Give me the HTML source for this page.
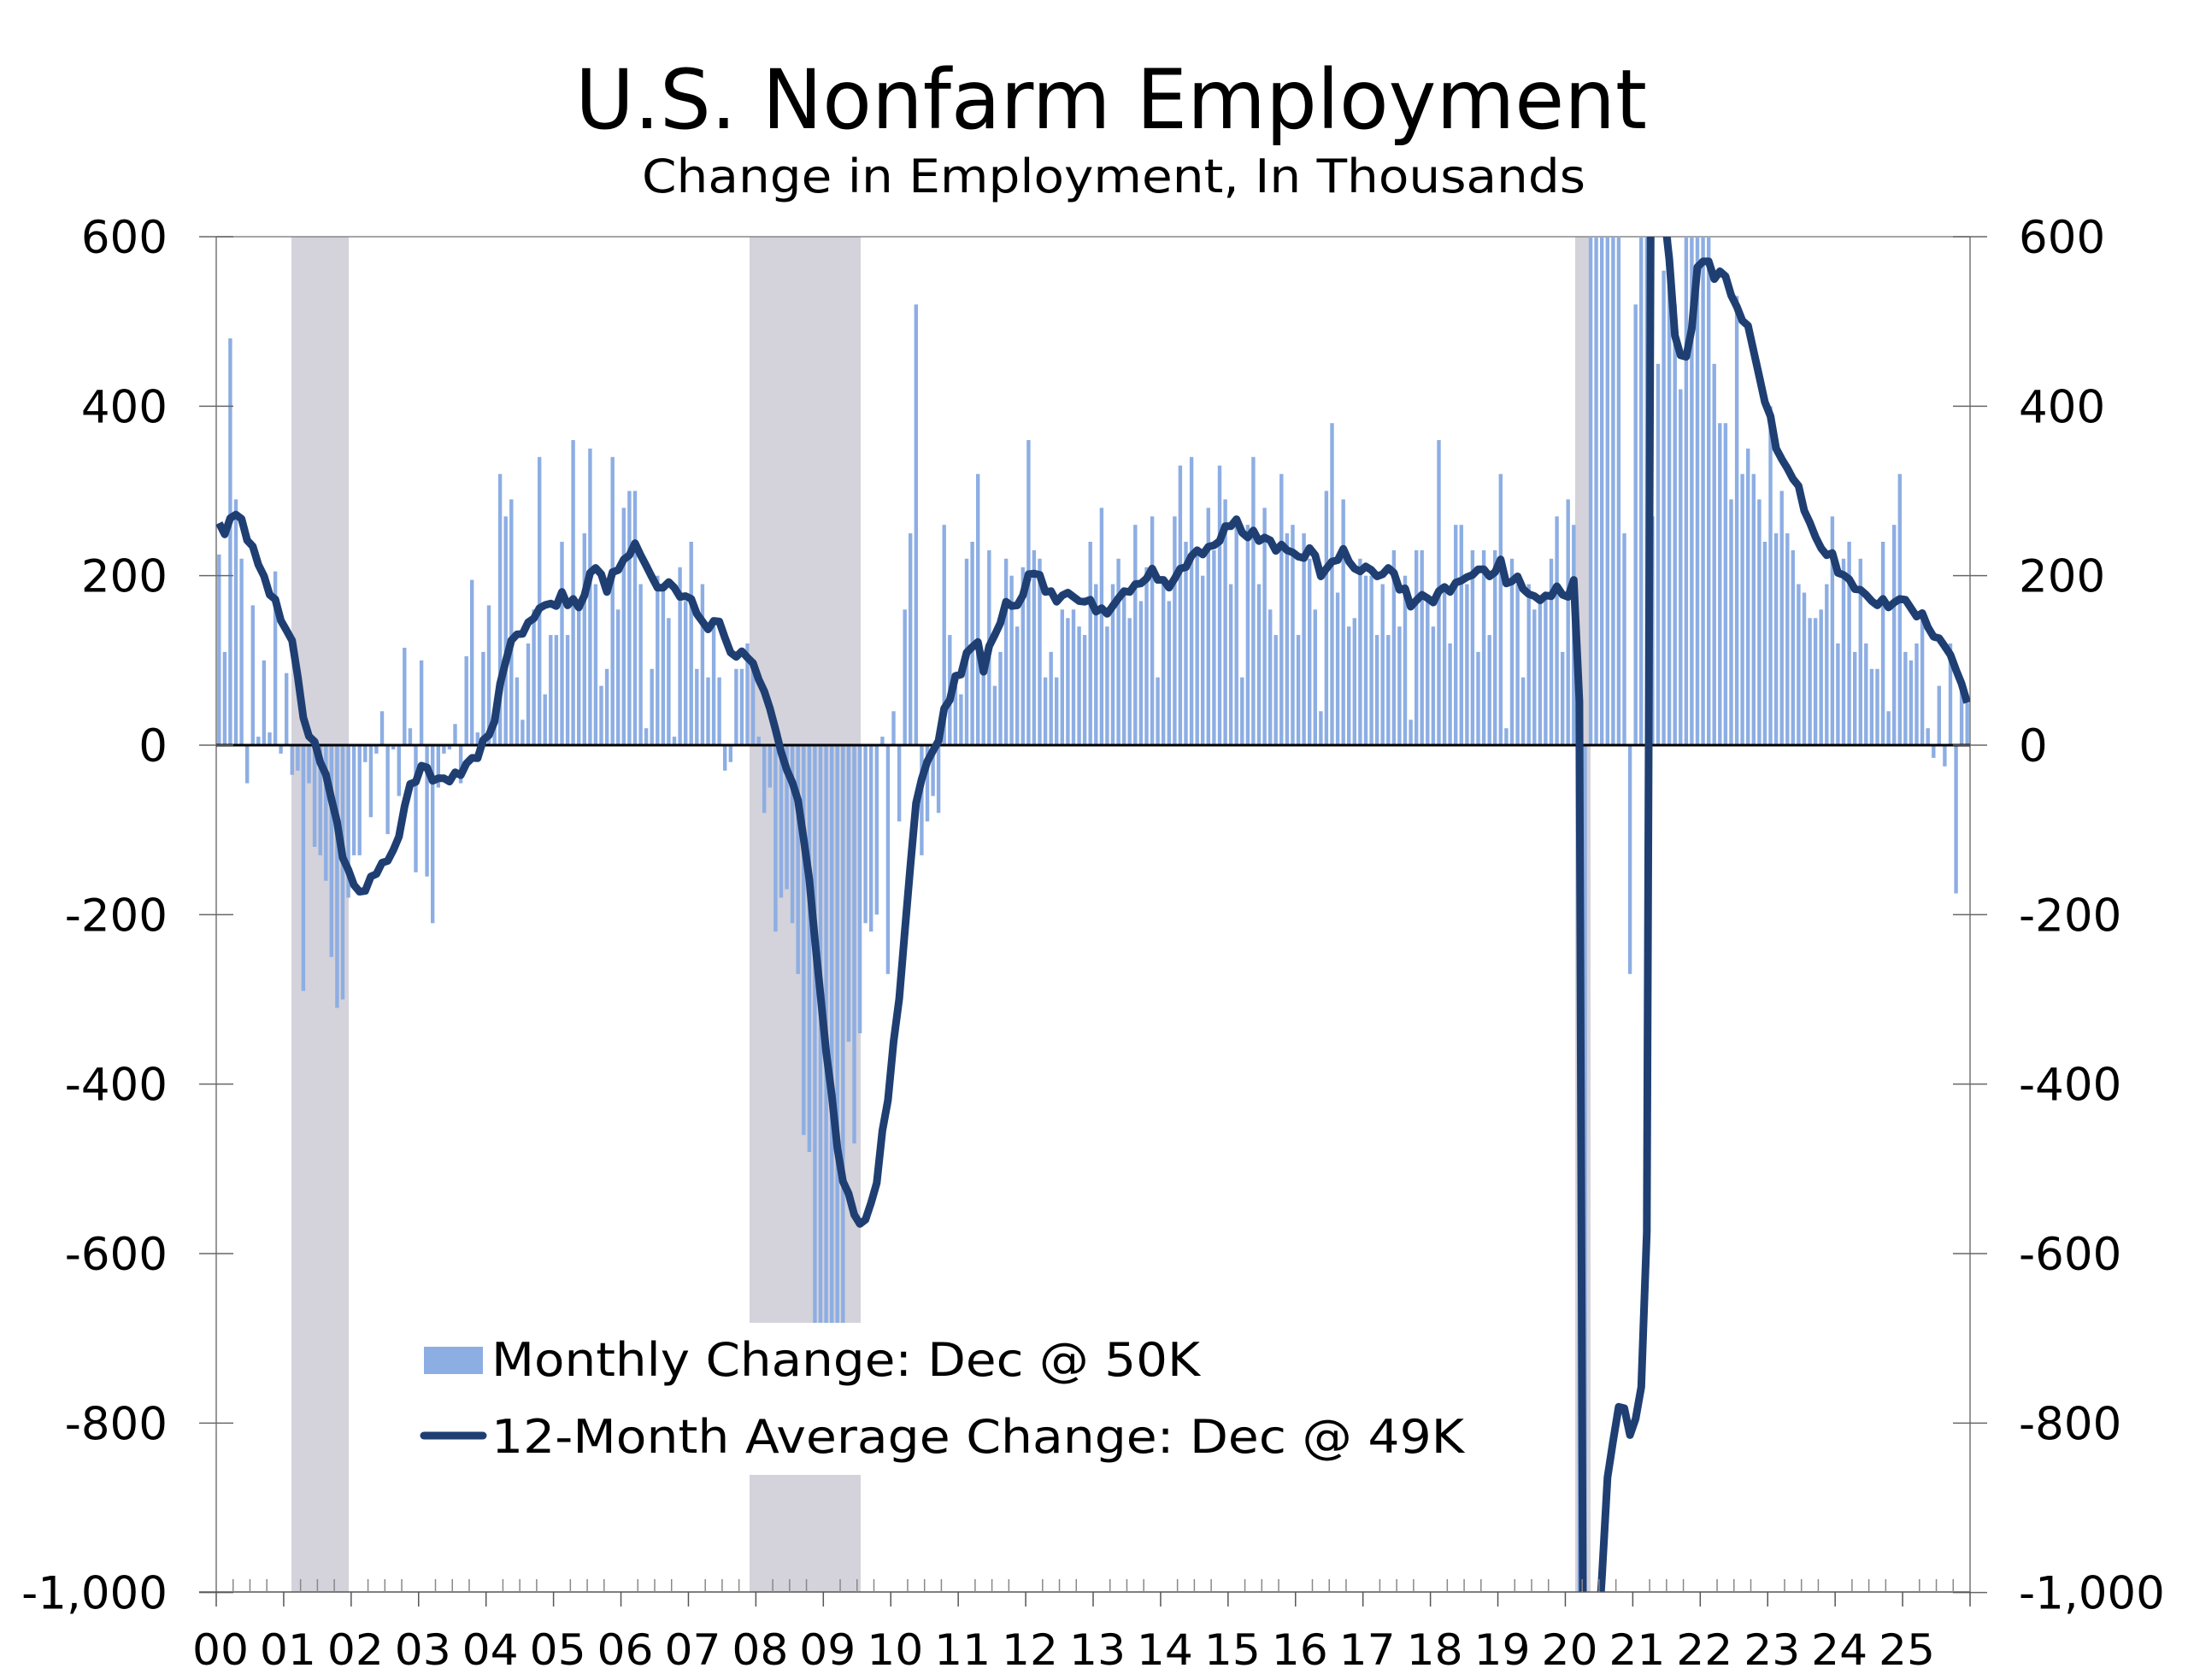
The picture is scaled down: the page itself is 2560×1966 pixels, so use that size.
<!DOCTYPE html>
<html><head><meta charset="utf-8"><style>
html,body{margin:0;padding:0;background:#fff;overflow:hidden;width:2560px;height:1966px;}
svg{display:block;}
</style></head><body>
<svg id="c" width="2560" height="1966" xmlns="http://www.w3.org/2000/svg" font-family="'DejaVu Sans','Liberation Sans',sans-serif"></svg>
<script>
const L=253,R=2305,T=277,B=1863;
const Y0=872, k=(872-277)/600;
const y=v=>Y0-v*k;
const mw=(R-L)/312;
const pre=[260,270,250,240,280,260,250,270,260,280,270,290];
const data=[
225,110,480,290,220,-45,165,10,100,15,205,-10,
85,-35,-30,-290,-45,-120,-130,-160,-250,-310,-300,-180,
-130,-130,-20,-85,-10,40,-105,-5,-60,115,20,-150,
100,-155,-210,-50,-10,-5,25,-45,105,195,15,110,
165,40,320,270,290,80,30,120,160,340,60,130,
130,240,130,360,170,250,350,190,70,90,340,160,
280,300,300,190,20,90,200,190,150,10,210,170,
240,90,190,80,140,80,-30,-20,90,90,120,90,
10,-80,-50,-220,-180,-170,-210,-270,-460,-480,-730,-700,
-790,-700,-800,-690,-350,-470,-340,-210,-220,-200,10,-270,
40,-90,160,250,520,-130,-90,-60,-80,260,130,70,
60,220,240,320,100,230,70,110,220,200,140,210,
360,230,220,80,110,80,160,150,160,140,130,240,
190,280,140,190,220,180,150,260,170,210,270,80,
190,170,270,330,240,340,230,200,280,230,330,290,
190,270,80,260,340,190,280,160,130,320,250,260,
130,250,220,160,40,300,380,180,290,140,150,220,
200,200,130,190,130,230,140,200,30,230,230,170,
140,360,190,120,260,260,190,230,110,230,130,230,
320,20,220,190,80,190,160,170,180,220,270,110,
290,260,-1500,-20500,2800,4500,1400,1600,700,700,250,-270,
520,710,700,270,450,560,690,520,420,680,650,600,
600,710,450,380,380,290,530,320,350,320,290,240,
400,250,300,250,230,190,180,150,150,160,190,270,
120,220,240,110,220,120,90,90,240,40,260,320,
110,100,120,160,20,-15,70,-25,120,-175,65,50];
let s='';
s+=`<defs><clipPath id="cp"><rect x="${L}" y="${T}" width="${R-L}" height="${B-T}"/></clipPath></defs>`;
s+=`<text x="1300" y="150" font-size="96" text-anchor="middle" textLength="1254" lengthAdjust="spacingAndGlyphs">U.S. Nonfarm Employment</text>`;
s+=`<text x="1303" y="225" font-size="54" text-anchor="middle" textLength="1104" lengthAdjust="spacingAndGlyphs">Change in Employment, In Thousands</text>`;
const band='#d4d2da';
s+=`<rect x="341" y="${T}" width="67" height="${B-T}" fill="${band}"/>`;
s+=`<rect x="877" y="${T}" width="130" height="${B-T}" fill="${band}"/>`;
s+=`<rect x="1843" y="${T}" width="18" height="${B-T}" fill="${band}"/>`;
s+=`<line x1="${L}" y1="${T}" x2="${R}" y2="${T}" stroke="#888" stroke-width="1.5"/>`;
s+=`<line x1="${L}" y1="${T}" x2="${L}" y2="${B}" stroke="#777" stroke-width="1.5"/>`;
s+=`<line x1="${R}" y1="${T}" x2="${R}" y2="${B}" stroke="#777" stroke-width="1.5"/>`;
let g='<g clip-path="url(#cp)" fill="#8daee3">';
data.forEach((v,i)=>{const cx=L+(i+0.5)*mw;const a=y(Math.max(v,0)),b=y(Math.min(v,0));g+=`<rect x="${(cx-2.2).toFixed(1)}" y="${a.toFixed(1)}" width="4.4" height="${Math.max(b-a,0.5).toFixed(1)}"/>`;});
g+='</g>';s+=g;
// legend background box
s+=`<rect x="470" y="1548" width="1260" height="178" fill="#fff"/>`;
s+=`<line x1="${L}" y1="${Y0}" x2="${R}" y2="${Y0}" stroke="#000" stroke-width="3"/>`;
const all=pre.concat(data);let pts=[];
for(let i=0;i<data.length;i++){let sum=0;for(let j=i+1;j<=i+12;j++)sum+=all[j];const v=sum/12;pts.push(`${(L+(i+0.5)*mw).toFixed(1)},${y(v).toFixed(1)}`);}
s+=`<g clip-path="url(#cp)"><polyline points="${pts.join(' ')}" fill="none" stroke="#1f3f73" stroke-width="9" stroke-linejoin="round"/></g>`;
for(let v=600;v>=-1000;v-=200){const yy=y(v);const lab=v==-1000?'-1,000':String(v);
s+=`<line x1="${L-20}" y1="${yy}" x2="${L+20}" y2="${yy}" stroke="#666" stroke-width="1.5"/>`;
s+=`<line x1="${R-20}" y1="${yy}" x2="${R+20}" y2="${yy}" stroke="#666" stroke-width="1.5"/>`;
s+=`<text x="196" y="${yy+19}" font-size="53" text-anchor="end">${lab}</text>`;
s+=`<text x="2362" y="${yy+19}" font-size="53">${lab}</text>`;}
s+=`<line x1="${L-20}" y1="${B}" x2="${R}" y2="${B}" stroke="#555" stroke-width="1.5"/>`;
for(let q=0;q<=104;q++){const xx=L+q*3*mw;if(q%4==0)s+=`<line x1="${xx}" y1="${B}" x2="${xx}" y2="${B+17}" stroke="#555" stroke-width="1.5"/>`;else s+=`<line x1="${xx}" y1="${B-15}" x2="${xx}" y2="${B}" stroke="#888" stroke-width="1.5"/>`;}
for(let yr=0;yr<26;yr++){const xx=L+yr*12*mw+5;s+=`<text x="${xx}" y="1948" font-size="50" text-anchor="middle" font-family="'DejaVu Sans Condensed','DejaVu Sans',sans-serif" textLength="66" lengthAdjust="spacingAndGlyphs">${String(yr).padStart(2,'0')}</text>`;}
s+=`<rect x="496" y="1576" width="69" height="32" fill="#8daee3"/>`;
s+=`<text x="575" y="1610" font-size="54" textLength="829" lengthAdjust="spacingAndGlyphs">Monthly Change: Dec @ 50K</text>`;
s+=`<line x1="496" y1="1680" x2="565" y2="1680" stroke="#1f3f73" stroke-width="9" stroke-linecap="round"/>`;
s+=`<text x="575" y="1700" font-size="54" textLength="1138" lengthAdjust="spacingAndGlyphs">12-Month Average Change: Dec @ 49K</text>`;
document.getElementById('c').innerHTML=s;
</script>
</body></html>
